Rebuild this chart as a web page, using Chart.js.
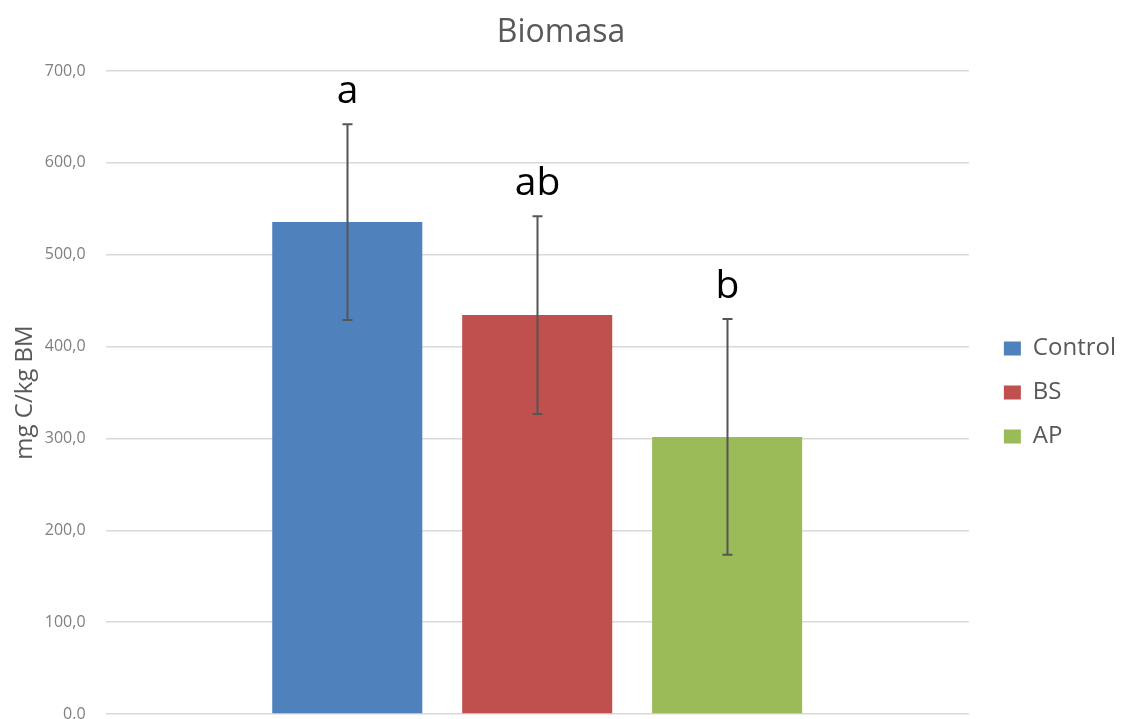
<!DOCTYPE html>
<html>
<head>
<meta charset="utf-8">
<title>Biomasa</title>
<script src="https://cdn.jsdelivr.net/npm/chart.js@4/dist/chart.umd.min.js"></script>
<style>
  html, body { margin: 0; padding: 0; background: #ffffff; }
  #wrap { position: relative; width: 1126px; height: 719px; }
</style>
</head>
<body>
<div id="wrap"><canvas id="chart" width="1126" height="719"></canvas></div>
<script>
// Treatments and their mean soil microbial biomass carbon (mg C/kg BM)
const treatments = ['Control', 'BS', 'AP'];
const means = [535.5, 434.5, 301.5];
// Lower and upper ends of the error bars
const errLow = [429.0, 326.5, 173.5];
const errHigh = [642.0, 542.0, 430.0];
// Significance letters printed above each bar
const sigLetters = ['a', 'ab', 'b'];
const barColors = ['#4F81BD', '#C0504D', '#9BBB59'];
const yTicks = [0, 100, 200, 300, 400, 500, 600, 700];

const FONT = '"Open Sans", "Noto Sans", sans-serif';

const datasets = treatments.map((name, i) => ({
  label: name,
  data: [means[i]],
  backgroundColor: barColors[i],
  borderWidth: 0
}));

// Draws the error bars and the letters from the value scale
const errorBarPlugin = {
  id: 'errorBars',
  afterDatasetsDraw(chart) {
    const ctx = chart.ctx;
    const y = chart.scales.y;
    ctx.save();
    chart.data.datasets.forEach((ds, i) => {
      const meta = chart.getDatasetMeta(i);
      if (meta.hidden) return;
      const bar = meta.data[0];
      const x = Math.round(bar.x) + 0.5;
      const yLo = y.getPixelForValue(errLow[i]);
      const yHi = y.getPixelForValue(errHigh[i]);
      ctx.strokeStyle = '#555555';
      ctx.lineWidth = 2;
      ctx.beginPath();
      ctx.moveTo(x, yLo);
      ctx.lineTo(x, yHi);
      ctx.moveTo(x - 5, yHi);
      ctx.lineTo(x + 5, yHi);
      ctx.moveTo(x - 5, yLo);
      ctx.lineTo(x + 5, yLo);
      ctx.stroke();

      ctx.fillStyle = '#000000';
      ctx.font = '39px ' + FONT;
      ctx.textAlign = 'center';
      ctx.textBaseline = 'alphabetic';
      ctx.fillText(sigLetters[i], x, yHi - 21);
    });
    ctx.restore();
  }
};

// Leaves a gap between the plot and the legend column
const legendGapPlugin = {
  id: 'legendGap',
  afterLayout(chart) {
    const lg = chart.legend;
    if (!lg) return;
    const gap = 15;
    lg.left += gap;
    lg.right += gap;
  }
};

new Chart(document.getElementById('chart'), {
  type: 'bar',
  data: { labels: [''], datasets },
  plugins: [errorBarPlugin, legendGapPlugin],
  options: {
    responsive: false,
    animation: false,
    layout: { padding: { left: 11, right: 15, top: 0, bottom: 5 } },
    datasets: {
      bar: { categoryPercentage: 0.66, barPercentage: 0.79 }
    },
    plugins: {
      title: {
        display: true,
        text: 'Biomasa',
        color: '#595959',
        font: { family: FONT, size: 32, weight: 'normal' },
        padding: { top: 14, bottom: 18.6 }
      },
      legend: {
        position: 'right',
        fullSize: false,
        labels: {
          color: '#595959',
          font: { family: FONT, size: 24 },
          boxWidth: 17,
          boxHeight: 14,
          padding: 20
        }
      },
      tooltip: { enabled: false }
    },
    scales: {
      x: {
        display: false,
        ticks: { display: false },
        grid: { display: false },
        border: { display: false }
      },
      y: {
        min: 0,
        max: 700,
        afterBuildTicks(scale) {
          scale.ticks = yTicks.map(v => ({ value: v }));
        },
        // tick padding only on the plot side; the end labels may overhang the plot edge
        afterFit(scale) {
          scale.width -= scale.options.ticks.padding;
          scale.paddingTop = 0;
          scale.paddingBottom = 0;
        },
        border: { display: false },
        grid: { color: '#d9d9d9', lineWidth: 1.5, drawTicks: false },
        ticks: {
          color: '#7f7f7f',
          font: { family: FONT, size: 16 },
          padding: 20,
          callback: v => v.toFixed(1).replace('.', ',')
        },
        title: {
          display: true,
          text: 'mg C/kg BM',
          color: '#595959',
          font: { family: FONT, size: 24 },
          padding: { top: 0, bottom: 5 }
        }
      }
    }
  }
});
</script>
</body>
</html>
